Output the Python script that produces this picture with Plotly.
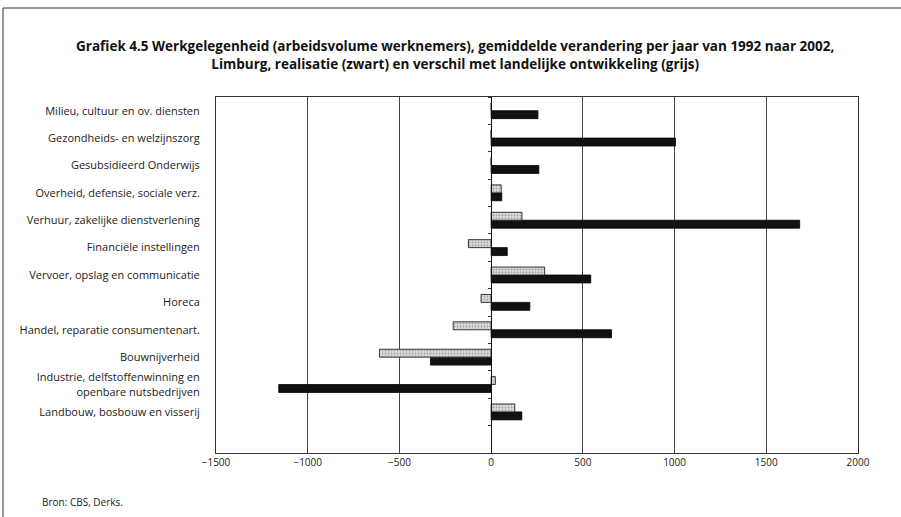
import plotly.graph_objects as go

categories = [
    "Milieu, cultuur en ov. diensten",
    "Gezondheids- en welzijnszorg",
    "Gesubsidieerd Onderwijs",
    "Overheid, defensie, sociale verz.",
    "Verhuur, zakelijke dienstverlening",
    "Financiële instellingen",
    "Vervoer, opslag en communicatie",
    "Horeca",
    "Handel, reparatie consumentenart.",
    "Bouwnijverheid",
    "Industrie, delfstoffenwinning en<br>openbare nutsbedrijven",
    "Landbouw, bosbouw en visserij",
]
realisatie = [255, 1005, 260, 58, 1682, 88, 543, 211, 656, -331, -1158, 167]
verschil = [0, 0, 0, 55, 168, -124, 292, -55, -207, -609, 23, 129]
x_ticks = [-1500, -1000, -500, 0, 500, 1000, 1500, 2000]

title_text = ("Grafiek 4.5 Werkgelegenheid (arbeidsvolume werknemers), gemiddelde verandering per jaar van 1992 naar 2002,"
              "<br>Limburg, realisatie (zwart) en verschil met landelijke ontwikkeling (grijs)")
source_text = "Bron: CBS, Derks."

W, H = 901, 517
L, R, T, B = 216, 43, 97, 64
pw, ph = W - L - R, H - T - B

def px(xp):
    return (xp - L) / pw

def py(yp):
    return (H - B - yp) / ph

order = categories[::-1]

fig = go.Figure()
fig.add_trace(go.Bar(
    y=categories, x=realisatie, orientation="h", name="realisatie",
    marker=dict(color="#111111", line=dict(color="#000000", width=0.8)),
))
fig.add_trace(go.Bar(
    y=categories, x=verschil, orientation="h", name="verschil",
    marker=dict(color="#d4d4d4", line=dict(color="#222222", width=0.9),
                pattern=dict(shape=".", fgcolor="#666666", bgcolor="#dcdcdc", size=3, solidity=0.3)),
))
# invisible helper trace for the category axis drawn at x = 0
fig.add_trace(go.Scatter(
    y=categories, x=[0] * len(categories), yaxis="y2", mode="markers",
    marker=dict(opacity=0), hoverinfo="skip", showlegend=False,
))

zero_pos = (0 - x_ticks[0]) / (x_ticks[-1] - x_ticks[0])

fig.update_layout(
    width=W, height=H,
    margin=dict(l=L, r=R, t=T, b=B),
    paper_bgcolor="white", plot_bgcolor="white",
    barmode="group", bargap=0.42, bargroupgap=0,
    showlegend=False,
    font=dict(family="Open Sans", color="#222222", size=10),
    xaxis=dict(
        range=[x_ticks[0], x_ticks[-1]], tickvals=x_ticks,
        ticktext=[("\u2212" + str(-v)) if v < 0 else str(v) for v in x_ticks],
        showgrid=True, gridcolor="#444444", gridwidth=1,
        zeroline=False, showline=True, linecolor="#333333", linewidth=1, mirror=True,
        ticks="", tickfont=dict(size=10, color="#222222"),
    ),
    yaxis=dict(
        type="category", categoryorder="array", categoryarray=order,
        range=[-1.5, len(categories) - 0.5],
        showgrid=False, zeroline=False, showline=True, linecolor="#333333", linewidth=1, mirror=True,
        ticks="", ticklabelstandoff=13, tickfont=dict(size=11, color="#222222"),
    ),
    yaxis2=dict(
        type="category", categoryorder="array", categoryarray=order,
        range=[-1.5, len(categories) - 0.5],
        overlaying="y", anchor="free", position=zero_pos, side="left",
        showgrid=False, zeroline=False, showline=True, linecolor="#111111", linewidth=1,
        ticks="outside", tickson="boundaries", ticklen=3, tickcolor="#333333",
        showticklabels=False,
    ),
    annotations=[
        dict(text=title_text, xref="paper", yref="paper", x=px(455), y=py(55),
             xanchor="center", yanchor="middle", showarrow=False, align="center",
             font=dict(family="Open Sans", size=13.5, color="#111111", weight="bold")),
        dict(text=source_text, xref="paper", yref="paper", x=px(40), y=py(502),
             xanchor="left", yanchor="middle", showarrow=False,
             font=dict(family="Open Sans", size=10, color="#222222")),
    ],
    shapes=[
        dict(type="line", xref="paper", yref="paper", x0=px(3), x1=px(901), y0=py(8), y1=py(8),
             line=dict(color="#333333", width=1)),
        dict(type="line", xref="paper", yref="paper", x0=px(3), x1=px(3), y0=py(8), y1=py(517),
             line=dict(color="#333333", width=1)),
    ],
)

fig.write_html("out.html", config={"displayModeBar": False},
               post_script="document.body.style.margin='0';document.body.style.overflow='hidden';")
